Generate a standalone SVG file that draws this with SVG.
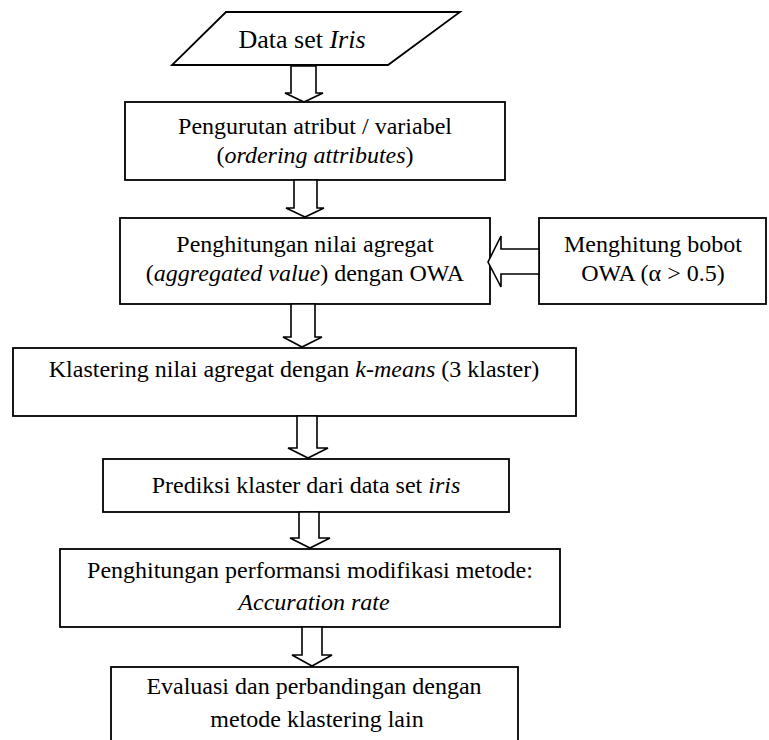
<svg xmlns="http://www.w3.org/2000/svg" width="769" height="740" viewBox="0 0 769 740">
<style>
.b{fill:#fff;stroke:#000;stroke-width:1.8}
.a{fill:#fff;stroke:#000;stroke-width:1.6;stroke-linejoin:miter}
text{font-family:"Liberation Serif","Times New Roman",serif;font-size:24px;fill:#000;text-anchor:middle}
.i{font-style:italic}
</style>
<rect width="769" height="740" fill="#fff"/>
<g id="n0"><polygon class="b" points="226,12 460,12 388,65 172,65"/><text x="302" y="48" style="font-size:26px">Data set <tspan class="i">Iris</tspan></text></g>
<g id="n1"><rect class="b" x="125" y="102" width="380" height="78"/><text x="315" y="134">Pengurutan atribut  / variabel</text><text x="315" y="163">(<tspan class="i">ordering attributes</tspan>)</text></g>
<g id="n2"><rect class="b" x="120" y="218" width="370" height="86"/><text x="305" y="252">Penghitungan nilai agregat</text><text x="305" y="281">(<tspan class="i">aggregated value</tspan>) dengan OWA</text></g>
<g id="n3"><rect class="b" x="539" y="218" width="227" height="86"/><text x="653" y="252">Menghitung bobot</text><text x="653" y="281">OWA (α &gt; 0.5)</text></g>
<g id="n4"><rect class="b" x="13" y="348" width="563" height="68"/><text x="294" y="377">Klastering nilai agregat dengan <tspan class="i">k-means</tspan> (3 klaster)</text></g>
<g id="n5"><rect class="b" x="103" y="459" width="406" height="53"/><text x="306" y="493">Prediksi klaster dari data set <tspan class="i">iris</tspan></text></g>
<g id="n6"><rect class="b" x="60" y="549" width="500" height="78"/><text x="310" y="578">Penghitungan performansi modifikasi metode:</text><text x="314" y="610" class="i">Accuration rate</text></g>
<g id="n7"><rect class="b" x="111" y="667" width="407" height="80"/><text x="314" y="694">Evaluasi dan perbandingan dengan</text><text x="317" y="727">metode klastering lain</text></g>
<g id="connectors">
<path class="a" d="M291,66 V93 H285 L304,102 L323,93 H316 V66 Z"/>
<path class="a" d="M294,180 V208 H286 L305,217 L324,208 H317 V180 Z"/>
<path class="a" d="M291,304 V337 H283 L302,347 L322,337 H315 V304 Z"/>
<path class="a" d="M297,416 V448 H288 L308,458 L328,448 H317 V416 Z"/>
<path class="a" d="M299,512 V538 H290 L310,548 L330,538 H319 V512 Z"/>
<path class="a" d="M302,627 V655 H292 L312,666 L332,655 H322 V627 Z"/>
<path class="a" d="M539,249 H501 V236 L488,262 L501,287 V274 H539 Z"/>
</g>
</svg>
